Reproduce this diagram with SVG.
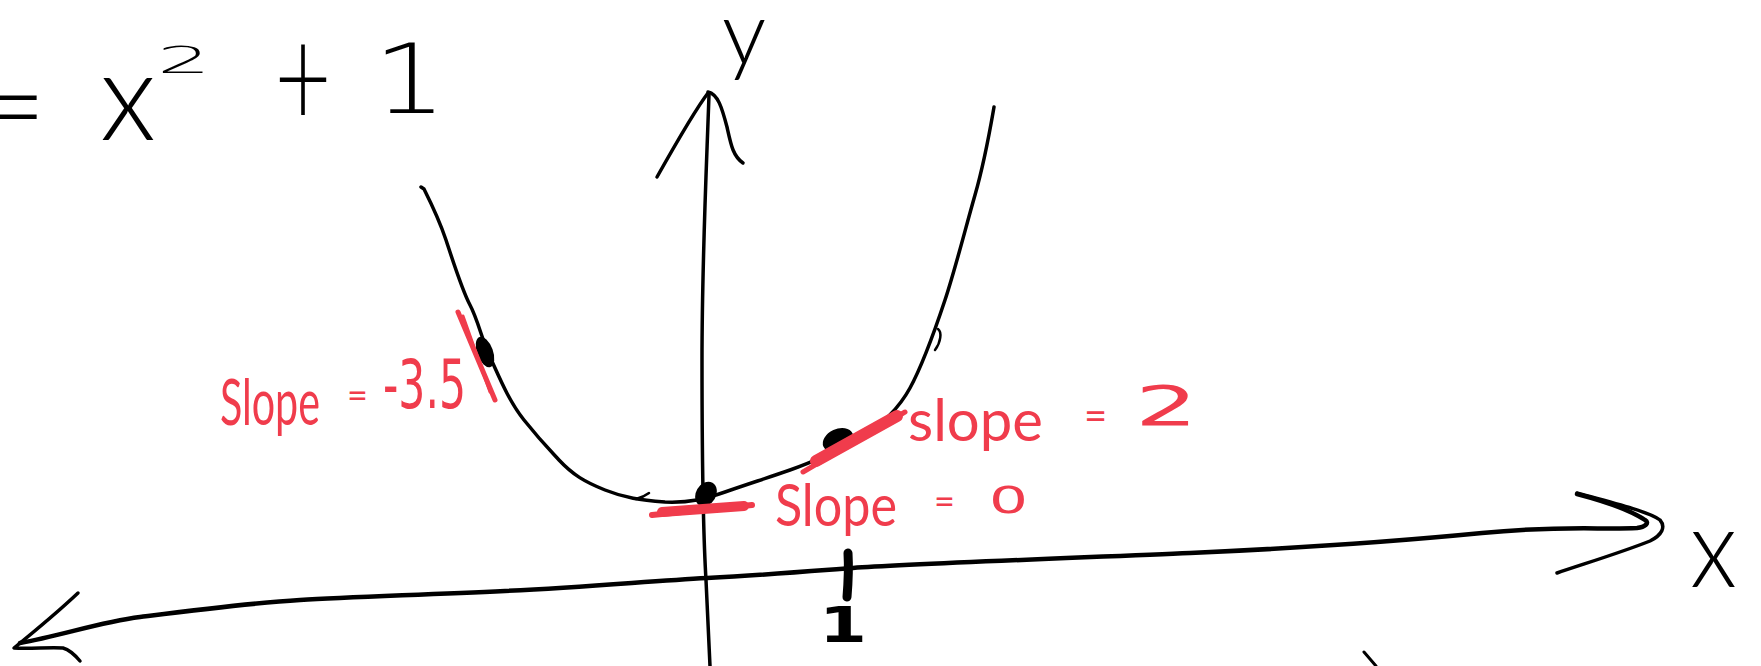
<svg xmlns="http://www.w3.org/2000/svg" width="1761" height="666" viewBox="0 0 1761 666">
<style>
.ink{fill:none;stroke:#000;stroke-linecap:round;stroke-linejoin:round}
.red{fill:none;stroke:#f03c4c;stroke-linecap:round;stroke-linejoin:round}
.dot{fill:#000}
.bt{font-family:Lato,"Liberation Sans",sans-serif;font-weight:300;fill:#000}
.rt{font-family:Lato,"Liberation Sans",sans-serif;font-weight:400;fill:#f03c4c}
.bd{font-family:"DejaVu Sans","Liberation Sans",sans-serif;font-weight:200;fill:#000}
.rd{font-family:"DejaVu Sans","Liberation Sans",sans-serif;font-weight:400;fill:#f03c4c}
.bold{font-family:"DejaVu Sans","Liberation Sans",sans-serif;font-weight:700;fill:#000}
</style>
<rect width="1761" height="666" fill="#fff"/>
<g id="equation">
<text class="bt" x="-23" y="148" font-size="120">=</text>
<text class="bt" x="100" y="140" font-size="125" textLength="56" lengthAdjust="spacingAndGlyphs">x</text>
<text class="bd" x="157" y="73" font-size="38" textLength="54" lengthAdjust="spacingAndGlyphs">2</text>
<text class="bd" x="272" y="115" font-size="112" textLength="62" lengthAdjust="spacingAndGlyphs">+</text>
<text class="bd" x="373" y="113" font-size="97" textLength="74" lengthAdjust="spacingAndGlyphs">1</text>
</g>
<g id="connectors">
<g id="y-axis">
<path class="ink" stroke-width="3.5" d="M709,95 C706,180 702,260 702,360 C702,460 703,530 706,580 L710,666"/>
<path class="ink" stroke-width="3.5" d="M657,177 C675,145 695,110 708,93"/>
<path class="ink" stroke-width="3.5" d="M708,92 C718,94 722,108 727,127 C731,145 733,156 743,163"/>
</g>
<g id="x-axis">
<path class="ink" stroke-width="4.5" d="M20,643 C60,636 100,622 140,617 S250,603 300,600 S420,595 505,591 S650,581 707,578 S800,572 853,568 S1100,557 1190,553 S1400,541 1482,533 S1600,530 1637,528 C1645,527 1650,523 1645,520 C1630,510 1600,500 1577,494"/>
<path class="ink" stroke-width="3.5" d="M1577,493 C1610,502 1650,512 1660,520 C1666,527 1662,535 1650,541 C1620,553 1580,565 1557,573"/>
<path class="ink" stroke-width="3.5" d="M78,593 C60,610 30,635 14,648 C30,649 50,647 63,648 C70,650 75,655 80,661"/>
<path class="ink" stroke-width="9" d="M848,553 C849,570 848,585 847,597"/>
<path class="ink" stroke-width="3" d="M1364,652 L1376,666"/>
</g>
</g>
<g id="parabola">
<path class="ink" stroke-width="3.5" d="M421,187 L424,189 C432,205 440,222 446,240 S462,290 470,305 S482,340 490,357 S508,400 524,420 S545,445 559,460 S585,482 605,490 S640,500 665,502 C690,503 705,499 725,492 S770,477 790,470 S840,450 860,438 S898,410 910,388 S935,330 945,300 S965,230 975,195 S990,130 994,107"/>
<path class="ink" stroke-width="2.5" d="M636,499 C640,498 645,496 649,493"/>
<path class="ink" stroke-width="2.5" d="M938,329 C942,332 941,342 935,350"/>
</g>
<g id="point-left">
<ellipse class="dot" cx="485" cy="352" rx="8" ry="16" transform="rotate(-20 485 352)"/>
<path class="red" stroke-width="5" d="M458,312 L495,400"/>
<path class="red" stroke-width="3" d="M463,316 L490,392"/>
<text class="rt" x="220" y="425" font-size="64" textLength="100" lengthAdjust="spacingAndGlyphs">Slope</text>
<text class="rt" x="347" y="408" font-size="36">=</text>
<text class="rd" x="383" y="408" font-size="68" textLength="83" lengthAdjust="spacingAndGlyphs">-3.5</text>
</g>
<g id="point-origin">
<ellipse class="dot" cx="706" cy="494" rx="10" ry="13" transform="rotate(30 706 494)"/>
<path class="red" stroke-width="6" d="M652,515 L752,505"/>
<path class="red" stroke-width="10" d="M662,512 L744,506"/>
<text class="rt" x="775" y="526" font-size="58" textLength="122" lengthAdjust="spacingAndGlyphs">Slope</text>
<text class="rt" x="934" y="514" font-size="36">=</text>
<text class="rd" x="989" y="513" font-size="38" textLength="39" lengthAdjust="spacingAndGlyphs">0</text>
</g>
<g id="point-right">
<ellipse class="dot" cx="838" cy="440" rx="16" ry="11" transform="rotate(-25 838 440)"/>
<path class="red" stroke-width="5" d="M803,472 L905,412"/>
<path class="red" stroke-width="12" d="M816,461 L897,416"/>
<text class="rt" x="908" y="441" font-size="58" textLength="135" lengthAdjust="spacingAndGlyphs">slope</text>
<text class="rt" x="1084" y="430" font-size="40">=</text>
<text class="rd" x="1135" y="425" font-size="55" textLength="63" lengthAdjust="spacingAndGlyphs">2</text>
</g>
<g id="axis-labels">
<text class="bt" x="722" y="64" font-size="88">y</text>
<text class="bt" x="1690" y="587" font-size="110" textLength="47" lengthAdjust="spacingAndGlyphs">x</text>
<text class="bold" x="819" y="642" font-size="50" textLength="48" lengthAdjust="spacingAndGlyphs">1</text>
</g>
</svg>
